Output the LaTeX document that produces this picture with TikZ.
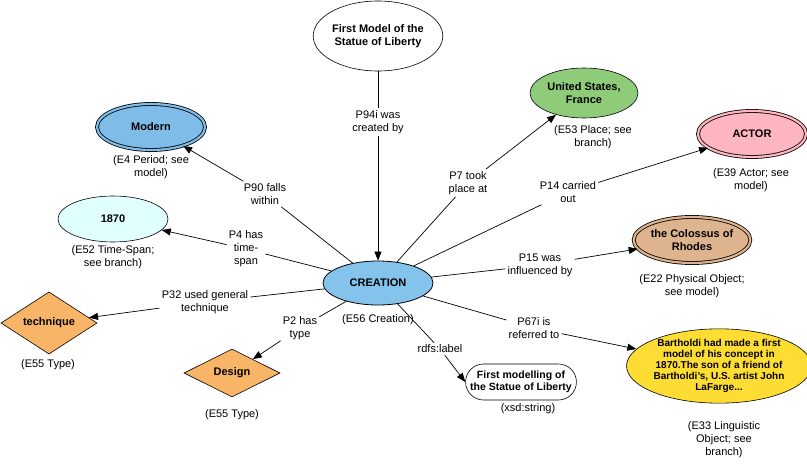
\documentclass[tikz,border=0pt]{standalone}
\usepackage{fontspec}
\setmainfont{Liberation Sans}
\usetikzlibrary{shapes.geometric,shapes.misc,arrows.meta}
\definecolor{creationblue}{HTML}{83C3EC}
\definecolor{periodblue}{HTML}{7FBDE8}
\definecolor{timecyan}{HTML}{E0FFFF}
\definecolor{typeorange}{HTML}{F9B567}
\definecolor{placegreen}{HTML}{8FCC7A}
\definecolor{actorpink}{HTML}{FFB6C1}
\definecolor{objtan}{HTML}{DEB48E}
\definecolor{lingyellow}{HTML}{FDDC33}
\tikzset{
  ent/.style={ellipse, draw=black, line width=0.8pt, inner sep=0pt, align=center,
    font=\fontsize{11}{13}\selectfont\bfseries},
  dblent/.style={ent, double distance=2.2pt},
  typebox/.style={diamond, draw=black, line width=0.6pt, fill=typeorange, inner sep=0pt,
    minimum width=96pt, minimum height=48pt, font=\fontsize{11}{13}\selectfont\bfseries},
  caption/.style={align=center, font=\fontsize{11}{13}\selectfont},
  prop/.style={align=center, inner sep=2pt, font=\fontsize{11}{13}\selectfont},
  link/.style={line width=0.7pt},
  arrowlink/.style={link, -{Triangle[length=9pt,width=7pt]}}
}
\begin{document}
\begin{tikzpicture}[x=1pt,y=-1pt]
\useasboundingbox (0,0) rectangle (807,471);

% central event
\node[ent, fill=creationblue, minimum width=110pt, minimum height=44pt] (creation) at (378,283) {CREATION};
\node[caption] (creationcap) at (378,320) {(E56 Creation)};

% related entities
\node[ent, fill=white, minimum width=96pt, minimum height=70pt, line width=0.6pt] (model) at (378,36) {First Model of the\\Statue of Liberty};

\node[dblent, fill=periodblue, double=periodblue, draw=black, minimum width=108pt, minimum height=46pt] (modern) at (151,127) {Modern};
\node[caption] (moderncap) at (151,167) {(E4 Period; see\\model)};

\node[ent, fill=timecyan, minimum width=110pt, minimum height=46pt, line width=0.6pt] (year) at (113,219) {1870};
\node[caption] (yearcap) at (113,257) {(E52 Time-Span;\\see branch)};

\node[typebox] (technique) at (49,323) {technique};
\node[caption] (techniquecap) at (48,365) {(E55 Type)};

\node[typebox] (design) at (232,373) {Design};
\node[caption] (designcap) at (232,415) {(E55 Type)};

\node[rounded rectangle, draw=black, line width=0.6pt, fill=white, minimum width=102pt, minimum height=36pt, inner sep=1pt, align=center,
  font=\fontsize{10.5}{12}\selectfont\bfseries] (literal) at (521,382) {First modelling of\\the Statue of Liberty};
\node[caption] (literalcap) at (528,409) {(xsd:string)};

\node[ent, fill=lingyellow, minimum width=174pt, minimum height=74pt, line width=0.6pt,
  font=\fontsize{10}{10.8}\selectfont\bfseries] (ling) at (719,366) {Bartholdi had made a first\\model of his concept in\\1870.The son of a friend of\\Bartholdi's, U.S. artist John\\LaFarge...};
\node[caption] (lingcap) at (724,440) {(E33 Linguistic\\Object; see\\branch)};

\node[dblent, fill=objtan, double=objtan, minimum width=106pt, minimum height=46pt] (colossus) at (692,240) {the Colossus of\\Rhodes};
\node[caption] (colossuscap) at (692,286) {(E22 Physical Object;\\see model)};

\node[dblent, fill=actorpink, double=actorpink, minimum width=108pt, minimum height=46pt] (actor) at (752,134) {ACTOR};
\node[caption] (actorcap) at (751,180) {(E39 Actor; see\\model)};

\node[ent, fill=placegreen, minimum width=108pt, minimum height=50pt, line width=0.6pt] (place) at (584,93) {United States,\\France};
\node[caption] (placecap) at (593,137) {(E53 Place; see\\branch)};

% property labels
\node[prop] (p94) at (378,122) {P94i was\\created by};
\node[prop] (p90) at (265,194) {P90 falls\\within};
\node[prop] (p4) at (246,249) {P4 has\\time-\\span};
\node[prop] (p32) at (205,302) {P32 used general\\technique};
\node[prop] (p2) at (300,328) {P2 has\\type};
\node[prop] (rdfs) at (440,349) {rdfs:label};
\node[prop] (p67) at (534,328) {P67i is\\referred to};
\node[prop] (p15) at (540,265) {P15 was\\influenced by};
\node[prop] (p14) at (568,192) {P14 carried\\out};
\node[prop] (p7) at (468,183) {P7 took\\place at};

% connectors
\draw[link] (model) -- (p94);
\draw[arrowlink] (p94) -- (creation);

\draw[link] (creation) -- (p90);
\draw[arrowlink] (p90) -- (modern);

\draw[link] (creation) -- (p4);
\draw[arrowlink] (p4) -- (year);

\draw[link] (creation) -- (p32);
\draw[arrowlink] (p32) -- (technique);

\draw[link] (creation) -- (p2);
\draw[arrowlink] (p2) -- (design);

\draw[link] (creation) -- (rdfs);
\draw[arrowlink] (rdfs) -- (literal.west);

\draw[link] (creation) -- (p67);
\draw[arrowlink] (p67) -- (ling);

\draw[link] (creation) -- (p15);
\draw[arrowlink] (p15) -- (colossus);

\draw[link] (creation) -- (p14);
\draw[arrowlink] (p14) -- (actor);

\draw[link] (creation) -- (p7);
\draw[arrowlink] (p7) -- (place);
\end{tikzpicture}
\end{document}
